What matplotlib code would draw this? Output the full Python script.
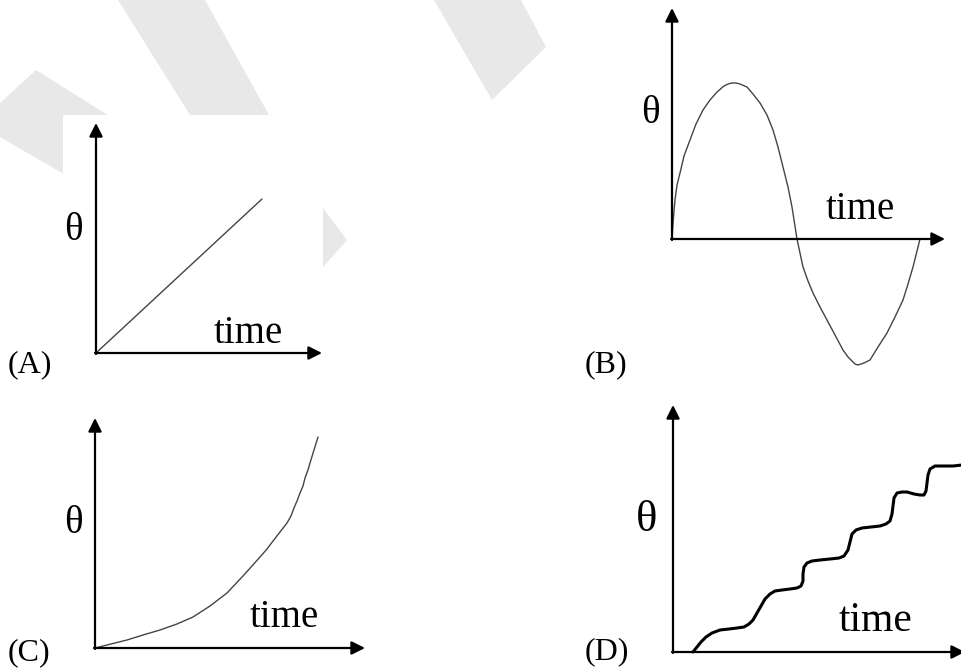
import matplotlib
matplotlib.use("Agg")
import matplotlib.pyplot as plt
from matplotlib.patches import Polygon, Rectangle

W, H = 961, 669

# curve values (time, theta), in pixels from each origin
a_time = [0, 166]
a_theta = [0, 154]

b_time = [0, 1, 2, 3, 5, 8, 12, 18, 24, 31, 38, 45, 52, 56, 60, 64, 68, 75, 81, 88,
          95, 101, 106, 111, 116, 120, 125, 131, 136, 141, 148, 155, 163, 171, 176,
          180, 183, 186, 189, 192, 198, 206, 215, 223, 231, 236, 241, 248]
b_theta = [0, 15, 28, 39, 54, 66, 83, 99, 115, 129, 139, 147, 153, 155, 156, 156, 155,
           152, 145, 136, 124, 109, 92, 72, 52, 32, 0, -28, -42, -54, -68, -81, -96,
           -111, -118, -122, -125, -126, -125, -124, -121, -108, -94, -78, -61, -45,
           -28, 0]

c_time = [0, 16, 32, 48, 65, 82, 98, 115, 132, 148, 165, 172, 178, 185, 192, 196,
          199, 202, 205, 208, 210, 213, 215, 219, 223]
c_theta = [0, 4, 8, 13, 18, 24, 31, 42, 55, 72, 91, 99, 107, 116, 125, 132, 140, 147,
           155, 162, 170, 178, 185, 198, 211]

d_time = [20, 24, 28, 33, 39, 47, 56, 64, 71, 76, 80, 84, 88, 92, 97, 102, 109, 117,
          124, 128, 130, 130, 131, 134, 139, 147, 157, 166, 171, 175, 177, 179, 183,
          189, 198, 207, 213, 217, 219, 220, 221, 224, 229, 234, 241, 247, 251, 253,
          254, 255, 257, 262, 270, 280, 289]
d_theta = [0, 5, 10, 15, 19, 22, 23, 24, 25, 28, 32, 39, 46, 53, 58, 61, 62, 63,
           64, 66, 71, 78, 85, 89, 91, 92, 93, 94, 96, 102, 110, 118, 122,
           124, 125, 126, 128, 131, 138, 146, 154, 159, 160, 160, 158, 157, 157, 161,
           169, 177, 183, 186, 186, 186, 187]

# background watermark shapes (pixel coords)
marks = [
    [(0, 103), (36, 70), (160, 148), (160, 230), (0, 137)],
    [(118, 0), (205, 0), (269, 115), (190, 115)],
    [(434, 0), (521, 0), (546, 47), (492, 100)],
    [(323, 208), (347, 240), (323, 267)],
]

fig = plt.figure(figsize=(W / 100, H / 100), dpi=100)
bg = fig.add_axes([0, 0, 1, 1])
bg.set_xlim(0, W)
bg.set_ylim(H, 0)
bg.axis("off")
for m in marks:
    bg.add_patch(Polygon(m, closed=True, facecolor="#e8e8e8", edgecolor="none"))
bg.add_patch(Rectangle((63, 115), 260, 290, facecolor="white", edgecolor="none"))

serif = "Liberation Serif"


def panel(x0, y0, xtip, ytip, t, th, curve_color, curve_lw, labels, fs_time, fs_theta):
    ax = fig.add_axes([0, 0, 1, 1])
    ax.set_xlim(-x0, W - x0)
    ax.set_ylim(y0 - H, y0)
    ax.axis("off")
    ax.patch.set_alpha(0)
    arrow = dict(arrowstyle="-|>", lw=1.6, color="black", mutation_scale=20,
                 shrinkA=0, shrinkB=0)
    ax.annotate("", xy=(xtip, 0), xytext=(-1, 0), arrowprops=arrow,
                annotation_clip=False)
    ax.annotate("", xy=(0, ytip), xytext=(0, -1), arrowprops=arrow,
                annotation_clip=False)
    ax.plot(t, th, color=curve_color, lw=curve_lw, solid_capstyle="round",
            solid_joinstyle="round")
    (tx, ty), (hx, hy), (lx, ly, name) = labels
    ax.text(tx - x0, y0 - ty, "time", fontsize=fs_time, family=serif,
            ha="left", va="baseline")
    ax.text(hx - x0, y0 - hy, "θ", fontsize=fs_theta, family=serif,
            ha="left", va="baseline")
    ax.text(lx - x0, y0 - ly, name, fontsize=23, family=serif,
            ha="left", va="baseline")
    return ax


panel(96, 353, 226, 230, a_time, a_theta, "#444444", 1.0,
      [(214, 343), (64, 240), (8, 372, "(A)")], 28, 28)
panel(672, 239, 273, 231, b_time, b_theta, "#444444", 1.0,
      [(826, 219), (641, 123), (585, 372, "(B)")], 28, 28)
panel(95, 648, 270, 230, c_time, c_theta, "#444444", 1.0,
      [(250, 627), (64, 533), (8, 660, "(C)")], 28, 28)
panel(673, 652, 292, 247, d_time, d_theta, "black", 2.2,
      [(839, 631), (636, 531), (585, 659, "(D)")], 30, 32)

fig.savefig("out.png", dpi=100)
